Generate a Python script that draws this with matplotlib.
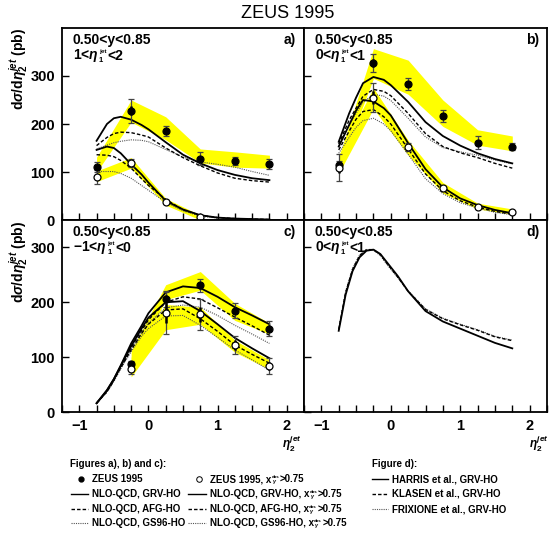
import matplotlib
matplotlib.use("Agg")
import matplotlib.pyplot as plt
from matplotlib.lines import Line2D
from matplotlib.transforms import IdentityTransform
from matplotlib.ticker import MultipleLocator, FixedLocator

plt.rcParams['font.family'] = ['Liberation Sans', 'DejaVu Sans']
plt.rcParams['font.weight'] = 'bold'
plt.rcParams['mathtext.fontset'] = 'custom'
plt.rcParams['mathtext.rm'] = 'Liberation Sans:bold'
plt.rcParams['mathtext.it'] = 'Liberation Sans:italic:bold'
plt.rcParams['mathtext.bf'] = 'Liberation Sans:bold'

W, H = 554, 533
YELLOW = '#ffff00'

# ---- data ----
eta_bins = [-0.75, -0.25, 0.25, 0.75, 1.25, 1.75]
eta_curve = [-0.75, -0.6, -0.5, -0.4, -0.25, -0.1, 0.0, 0.25, 0.5, 0.75, 1.0, 1.25, 1.5, 1.75]
eta_curve_d = [-0.75, -0.65, -0.55, -0.45, -0.35, -0.25, -0.15, -0.05, 0.1, 0.25, 0.5, 0.75, 1.0, 1.25, 1.5, 1.75]

# panel a) 1<eta1<2
a_data = [110, 228, 185, 128, 123, 117]
a_stat = [5, 10, 5, 6, 5, 6]
a_tot = [10, 25, 10, 13, 9, 11]
a_band_lo = [100, 204, 167, 119, 110, 108]
a_band_hi = [131, 250, 215, 148, 142, 135]
a_open_eta = [-0.75, -0.25, 0.25, 0.75]
a_open = [90, 119, 38, 7]
a_open_stat = [6, 4, 2, 1]
a_open_tot = [14, 8, 3, 2]
a_open_band_lo = [80, 108, 31, 0]
a_open_band_hi = [102, 130, 45, 10]
a_grv = [165, 200, 212, 215, 209, 198, 189, 162, 136, 118, 104, 94, 87, 83]
a_afg = [155, 172, 180, 183, 182, 177, 173, 150, 130, 113, 98, 87, 82, 79]
a_gs96 = [148, 156, 161, 164, 167, 166, 163, 147, 131, 121, 116, 110, 101, 93]
a_grv_x = [146, 153, 150, 139, 116, 95, 78, 40, 22, 10, 5, 3, 2, 1]
a_afg_x = [136, 135, 132, 124, 108, 86, 72, 43, 21, 10, 5, 3, 2, 1]
a_gs96_x = [101, 101, 101, 97, 87, 72, 62, 37, 19, 8, 4, 2, 1, 1]

# panel b) 0<eta1<1
b_data = [114, 327, 283, 217, 161, 153]
b_stat = [4, 9, 6, 6, 6, 4]
b_tot = [8, 18, 12, 12, 13, 8]
b_band_lo = [104, 295, 262, 195, 156, 144]
b_band_hi = [130, 357, 333, 250, 188, 175]
b_open = [109, 255, 152, 66, 28, 16]
b_open_stat = [12, 14, 4, 2, 1, 1]
b_open_tot = [28, 30, 9, 5, 3, 2]
b_open_band_lo = [97, 232, 135, 56, 23, 12]
b_open_band_hi = [135, 275, 166, 78, 35, 23]
b_grv = [163, 222, 255, 285, 298, 292, 281, 246, 204, 175, 155, 139, 127, 118]
b_afg = [158, 208, 233, 258, 272, 268, 259, 222, 180, 153, 140, 130, 118, 108]
b_gs96 = [154, 198, 222, 245, 262, 258, 249, 212, 173, 151, 142, 135, 125, 117]
b_grv_x = [153, 198, 228, 250, 247, 233, 218, 160, 106, 68, 45, 31, 21, 14]
b_afg_x = [146, 185, 210, 226, 230, 215, 200, 148, 96, 61, 40, 27, 18, 12]
b_gs96_x = [139, 172, 193, 207, 212, 200, 186, 137, 86, 55, 36, 25, 16, 11]

# panel c) -1<eta1<0
c_eta = [-0.25, 0.25, 0.75, 1.25, 1.75]
c_data = [87, 206, 231, 185, 152]
c_stat = [3, 7, 6, 7, 6]
c_tot = [6, 15, 12, 13, 13]
c_band_lo = [76, 205, 222, 167, 142]
c_band_hi = [112, 232, 256, 198, 162]
c_open = [78, 181, 178, 122, 84]
c_open_stat = [4, 18, 14, 9, 8]
c_open_tot = [8, 38, 28, 17, 15]
c_open_band_lo = [64, 150, 160, 109, 78]
c_open_band_hi = [100, 196, 191, 131, 95]
c_grv = [16, 40, 60, 85, 125, 157, 180, 218, 229, 226, 210, 191, 176, 160]
c_afg = [16, 38, 58, 82, 118, 148, 168, 200, 210, 206, 190, 173, 157, 140]
c_gs96 = [16, 37, 56, 80, 115, 144, 162, 190, 195, 191, 176, 158, 142, 125]
c_grv_x = [16, 39, 60, 84, 120, 152, 172, 200, 202, 184, 160, 135, 116, 98]
c_afg_x = [16, 37, 58, 81, 113, 143, 160, 186, 188, 170, 147, 122, 105, 89]
c_gs96_x = [16, 36, 56, 79, 110, 138, 152, 175, 176, 158, 136, 113, 95, 76]

# panel d) program comparison, 0<eta1<1
d_harris = [148, 214, 257, 282, 294, 296, 288, 272, 248, 220, 184, 165, 152, 139, 126, 116]
d_klasen = [150, 218, 260, 285, 296, 296, 287, 270, 246, 220, 187, 170, 159, 149, 137, 130]
d_frixione = [152, 220, 262, 286, 296, 295, 285, 268, 245, 221, 188, 171, 160, 150, 138, 131]

SOLID = dict(color='black', lw=1.3, ls='-')
DASHED = dict(color='black', lw=1.0, ls=(0, (2.5, 1.5)))
DOTTED = dict(color='#555555', lw=0.8, ls=(0, (1, 1)))


def px_box(x0, y0, x1, y1):
    return [x0 / W, 1 - y1 / H, (x1 - x0) / W, (y1 - y0) / H]


def points(ax, x, y, stat, tot, filled):
    ax.errorbar(x, y, yerr=tot, fmt='none', ecolor='#444444', elinewidth=0.9,
                capsize=2.5, capthick=0.9, zorder=5)
    ax.errorbar(x, y, yerr=stat, fmt='none', ecolor='black', elinewidth=1.8,
                capsize=0, zorder=6)
    ax.plot(x, y, 'o', ms=5, mfc='black' if filled else 'white', mec='black',
            mew=0.9, zorder=7)


def script_text(x, y, pre, sub, sup, post, size=10, family=None):
    # pre + sub/sup stacked small + post; x, y = left end and baseline in picture pixels
    r = fig.canvas.get_renderer()
    kw = dict(transform=IdentityTransform(), va='baseline')
    if family:
        kw['family'] = family
    yb = H - y
    t = fig.text(x, yb, pre, fontsize=size, **kw)
    x1 = t.get_window_extent(r).x1
    sp = fig.text(x1 + 0.3, yb + 0.6 * size, sup, fontsize=0.45 * size, **kw)
    sb = fig.text(x1 + 0.3, yb - 0.2 * size, sub, fontsize=0.55 * size, **kw)
    x2 = max(sp.get_window_extent(r).x1, sb.get_window_extent(r).x1)
    fig.text(x2 + 0.4, yb, post, fontsize=size, **kw)


def setup(ax, ymax, ylabels, xlabels, tag):
    ax.set_xlim(-1.25, 2.25)
    ax.set_ylim(0, ymax)
    ax.xaxis.set_major_locator(FixedLocator([-1, 0, 1, 2]))
    ax.xaxis.set_minor_locator(MultipleLocator(0.25))
    ax.yaxis.set_major_locator(FixedLocator([0, 100, 200, 300]))
    ax.tick_params(which='both', direction='in', length=5, width=1.0,
                   labelsize=10.5, top=False, right=False, pad=5)
    if not ylabels:
        ax.set_yticklabels([])
    if not xlabels:
        ax.set_xticklabels([])
    else:
        ax.set_xticklabels(['\u22121', '0', '1', '2'])
    for s in ax.spines.values():
        s.set_linewidth(1.3)
    ax.text(0.045, 1 - 16 / 192, '0.50<y<0.85', transform=ax.transAxes, fontsize=10,
            va='baseline')
    ax.text(0.915, 1 - 16 / 192, tag, transform=ax.transAxes, fontsize=10, va='baseline')


def theory(ax, x, grv, afg, gs96):
    ax.plot(x, gs96, zorder=3, **DOTTED)
    ax.plot(x, afg, zorder=3, **DASHED)
    ax.plot(x, grv, zorder=4, **SOLID)


fig = plt.figure(figsize=(W / 100, H / 100), dpi=100)
ax_a = fig.add_axes(px_box(62, 28, 304, 220))
ax_b = fig.add_axes(px_box(304, 28, 547, 220))
ax_c = fig.add_axes(px_box(62, 220, 304, 412))
ax_d = fig.add_axes(px_box(304, 220, 547, 412))

# a)
ax_a.fill_between(eta_bins, a_band_lo, a_band_hi, color=YELLOW, lw=0, zorder=1)
ax_a.fill_between(a_open_eta, a_open_band_lo, a_open_band_hi, color=YELLOW, lw=0, zorder=1)
theory(ax_a, eta_curve, a_grv, a_afg, a_gs96)
theory(ax_a, eta_curve, a_grv_x, a_afg_x, a_gs96_x)
points(ax_a, eta_bins, a_data, a_stat, a_tot, True)
points(ax_a, a_open_eta, a_open, a_open_stat, a_open_tot, False)
setup(ax_a, 400, True, False, 'a)')

# b)
ax_b.fill_between(eta_bins, b_band_lo, b_band_hi, color=YELLOW, lw=0, zorder=1)
ax_b.fill_between(eta_bins, b_open_band_lo, b_open_band_hi, color=YELLOW, lw=0, zorder=1)
theory(ax_b, eta_curve, b_grv, b_afg, b_gs96)
theory(ax_b, eta_curve, b_grv_x, b_afg_x, b_gs96_x)
points(ax_b, eta_bins, b_data, b_stat, b_tot, True)
points(ax_b, eta_bins, b_open, b_open_stat, b_open_tot, False)
setup(ax_b, 400, False, False, 'b)')

# c)
ax_c.fill_between(c_eta, c_band_lo, c_band_hi, color=YELLOW, lw=0, zorder=1)
ax_c.fill_between(c_eta, c_open_band_lo, c_open_band_hi, color=YELLOW, lw=0, zorder=1)
theory(ax_c, eta_curve, c_grv, c_afg, c_gs96)
theory(ax_c, eta_curve, c_grv_x, c_afg_x, c_gs96_x)
points(ax_c, c_eta, c_data, c_stat, c_tot, True)
points(ax_c, c_eta, c_open, c_open_stat, c_open_tot, False)
setup(ax_c, 350, True, True, 'c)')

# d)
theory(ax_d, eta_curve_d, d_harris, d_klasen, d_frixione)
setup(ax_d, 350, False, True, 'd)')

# second line of the panel headers
script_text(73, 59.5, r'1<$\eta$', '1', 'jet', '<2')
script_text(315, 59.5, r'0<$\eta$', '1', 'jet', '<1')
script_text(73, 251.5, '\u22121<' + r'$\eta$', '1', 'jet', '<0')
script_text(315, 251.5, r'0<$\eta$', '1', 'jet', '<1')

# title and axis titles
fig.text(288 / W, 1 - 14 / H, 'ZEUS 1995', fontsize=13, fontweight='normal',
         ha='center', va='center')
ylab = r'd$\sigma$/d$\eta_2^{jet}$ (pb)'
fig.text(19 / W, 1 - 28 / H, ylab, rotation=90, fontsize=10, ha='center', va='top')
fig.text(19 / W, 1 - 221 / H, ylab, rotation=90, fontsize=10, ha='center', va='top')
fig.text(292 / W, 1 - 444 / H, r'$\eta_2^{jet}$', fontsize=8.5, ha='center', va='center')
fig.text(539 / W, 1 - 444 / H, r'$\eta_2^{jet}$', fontsize=8.5, ha='center', va='center')

# legend block
NARROW = ['Liberation Sans Narrow', 'Liberation Sans']
rows = [464, 479, 494, 509, 523]


def fx(x):
    return x / W


def fy(y):
    return 1 - y / H


def leg_text(x, y, s):
    fig.text(fx(x), fy(y + 3), s, fontsize=7, family=NARROW, va='baseline', ha='left')


def leg_xcut(x, y, s):
    script_text(x, y + 3, s + ', x', r'$\gamma$', 'obs', '>0.75', size=7, family=NARROW)


def leg_line(x0, x1, y, style):
    st = dict(style)
    st['lw'] = min(st['lw'], 1.0)
    fig.add_artist(Line2D([fx(x0), fx(x1)], [fy(y), fy(y)], transform=fig.transFigure, **st))


leg_text(70, rows[0], 'Figures a), b) and c):')
fig.add_artist(Line2D([fx(81)], [fy(rows[1])], transform=fig.transFigure, marker='o',
                      ms=3.5, mfc='black', mec='black', ls='none'))
leg_text(92, rows[1], 'ZEUS 1995')
fig.add_artist(Line2D([fx(199)], [fy(rows[1])], transform=fig.transFigure, marker='o',
                      ms=4, mfc='white', mec='black', mew=0.7, ls='none'))
leg_xcut(210, rows[1], 'ZEUS 1995')

left_names = ['NLO-QCD, GRV-HO', 'NLO-QCD, AFG-HO', 'NLO-QCD, GS96-HO']
d_names = ['HARRIS et al., GRV-HO', 'KLASEN et al., GRV-HO', 'FRIXIONE et al., GRV-HO']
styles = [SOLID, DASHED, DOTTED]
for i, (name, style) in enumerate(zip(left_names, styles)):
    y = rows[i + 2]
    leg_line(71, 88, y, style)
    leg_text(92, y, name)
    leg_line(188, 206, y, style)
    leg_xcut(210, y, name)

leg_text(372, rows[0], 'Figure d):')
for i, (name, style) in enumerate(zip(d_names, styles)):
    y = rows[i + 1]
    leg_line(372, 388, y, style)
    leg_text(392, y, name)

fig.savefig('out.png', dpi=100)
